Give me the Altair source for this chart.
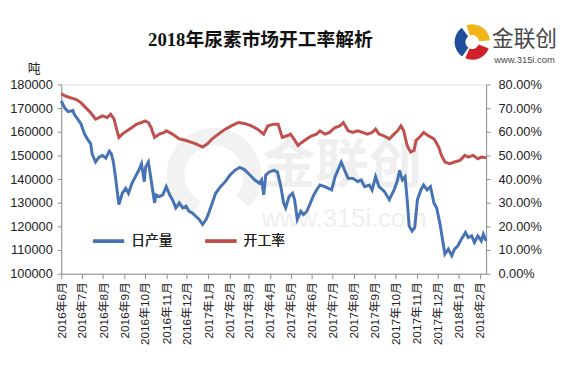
import altair as alt
import pandas as pd

# ---------------- data ----------------
prod_dates = [
    "2016-06-01", "2016-06-06", "2016-06-11", "2016-06-18", "2016-06-20", "2016-06-25", "2016-06-30",
    "2016-07-05", "2016-07-09", "2016-07-14", "2016-07-16", "2016-07-21", "2016-07-26", "2016-07-31",
    "2016-08-05", "2016-08-10", "2016-08-13", "2016-08-16", "2016-08-19", "2016-08-24", "2016-08-29",
    "2016-09-03", "2016-09-07", "2016-09-12", "2016-09-17", "2016-09-22", "2016-09-26", "2016-09-30",
    "2016-10-02", "2016-10-06", "2016-10-10", "2016-10-15", "2016-10-17", "2016-10-22", "2016-10-27",
    "2016-11-01", "2016-11-06", "2016-11-10", "2016-11-15", "2016-11-20", "2016-11-25", "2016-11-30",
    "2016-12-04", "2016-12-09", "2016-12-14", "2016-12-19", "2016-12-24", "2016-12-29",
    "2017-01-02", "2017-01-07", "2017-01-12", "2017-01-19", "2017-01-26",
    "2017-02-02", "2017-02-09", "2017-02-16", "2017-02-23",
    "2017-03-03", "2017-03-10", "2017-03-17", "2017-03-20", "2017-03-23", "2017-03-26", "2017-03-31",
    "2017-04-07", "2017-04-12", "2017-04-17", "2017-04-21", "2017-04-24", "2017-04-29",
    "2017-05-04", "2017-05-07", "2017-05-11", "2017-05-16", "2017-05-20", "2017-05-25", "2017-05-30",
    "2017-06-04", "2017-06-08", "2017-06-13", "2017-06-20", "2017-06-25", "2017-06-30",
    "2017-07-05", "2017-07-09", "2017-07-14", "2017-07-19", "2017-07-24", "2017-07-31",
    "2017-08-07", "2017-08-12", "2017-08-17", "2017-08-24", "2017-08-28",
    "2017-09-02", "2017-09-07", "2017-09-15", "2017-09-22", "2017-09-29",
    "2017-10-04", "2017-10-07", "2017-10-11", "2017-10-15", "2017-10-18", "2017-10-21", "2017-10-25", "2017-10-29",
    "2017-11-02", "2017-11-07", "2017-11-11", "2017-11-16", "2017-11-21", "2017-11-26", "2017-11-30",
    "2017-12-05", "2017-12-10", "2017-12-12", "2017-12-17", "2017-12-22", "2017-12-26", "2017-12-31",
    "2018-01-05", "2018-01-11", "2018-01-15", "2018-01-20", "2018-01-24", "2018-01-29",
    "2018-02-03", "2018-02-06", "2018-02-10",
]
prod_values = [
    173000, 170100, 168500, 169000, 167400, 165300, 163200,
    159000, 157000, 154900, 150700, 147200, 149300, 150000,
    148800, 151800, 150700, 147200, 141000, 129200, 134000,
    136100, 134000, 138200, 141000, 143700, 146500, 138900,
    145100, 147200, 139600, 129900, 133300, 132600, 133300,
    136800, 133300, 131300, 127800, 129900, 127800, 128500,
    126400, 125700, 124300, 122900, 120800, 122900,
    125700, 129900, 134000, 136800, 138900,
    141700, 143700, 144900, 144000,
    141700, 139600, 138200, 139600, 133300, 141700, 143000,
    143700, 143000, 136800, 129900, 127800, 132600,
    134000, 131300, 122900, 126400, 125000, 126400, 129900,
    133300, 135400, 137500, 136800, 136100, 135400,
    141000, 143700, 147200, 143700, 140300, 140300,
    138900, 139600, 136800, 137500, 135400,
    141000, 136800, 134700, 131300, 135400,
    139600, 143700, 139600, 141000, 131300, 120100, 118000, 119500,
    131300, 135400, 137500, 135400, 136800, 129900, 127800,
    120800, 111800, 108300, 110400, 107600, 110400, 111800,
    114600, 117400, 115300, 116000, 113200, 116000,
    113900, 116700, 113900,
]

rate_dates = [
    "2016-06-01", "2016-06-08", "2016-06-15", "2016-06-23", "2016-06-30",
    "2016-07-07", "2016-07-14", "2016-07-21", "2016-07-26", "2016-07-31",
    "2016-08-07", "2016-08-12", "2016-08-17", "2016-08-20", "2016-08-24", "2016-08-29",
    "2016-09-05", "2016-09-12", "2016-09-19", "2016-09-26",
    "2016-10-01", "2016-10-06", "2016-10-10", "2016-10-15", "2016-10-22", "2016-10-29",
    "2016-11-01", "2016-11-10", "2016-11-20", "2016-11-30",
    "2016-12-07", "2016-12-14", "2016-12-24", "2016-12-31",
    "2017-01-07", "2017-01-16", "2017-01-26",
    "2017-02-04", "2017-02-14", "2017-02-23",
    "2017-03-05", "2017-03-14", "2017-03-23", "2017-03-29",
    "2017-04-07", "2017-04-13", "2017-04-19", "2017-04-26",
    "2017-05-01", "2017-05-06", "2017-05-12", "2017-05-18", "2017-05-25",
    "2017-06-01", "2017-06-08", "2017-06-13", "2017-06-20", "2017-06-27",
    "2017-07-05", "2017-07-12", "2017-07-17", "2017-07-24", "2017-07-31",
    "2017-08-07", "2017-08-14", "2017-08-21", "2017-08-28",
    "2017-09-02", "2017-09-07", "2017-09-14", "2017-09-22", "2017-09-29",
    "2017-10-04", "2017-10-09", "2017-10-13", "2017-10-18", "2017-10-23", "2017-10-28", "2017-10-31",
    "2017-11-07", "2017-11-11", "2017-11-18", "2017-11-26",
    "2017-12-03", "2017-12-07", "2017-12-12", "2017-12-19", "2017-12-26",
    "2018-01-03", "2018-01-10", "2018-01-15", "2018-01-22", "2018-01-29",
    "2018-02-03", "2018-02-10",
]
rate_values = [  # percent
    76.0, 75.0, 74.3, 73.6, 72.2,
    70.1, 68.0, 65.3, 66.0, 66.7,
    66.0, 67.4, 65.3, 61.8, 57.6, 59.0,
    60.4, 61.8, 63.2, 63.9,
    64.6, 63.9, 61.8, 57.6, 59.0, 59.7,
    60.4, 59.0, 57.0, 56.3,
    55.6, 54.9, 53.5, 54.9,
    57.0, 59.0, 61.1,
    62.5, 63.9, 63.5,
    62.5, 61.1, 59.0, 62.5,
    63.2, 63.2, 57.6, 58.3,
    59.0, 57.0, 54.2, 55.6, 57.0,
    58.3, 59.0, 60.4, 59.0, 59.7,
    61.8, 62.5, 63.9, 60.4, 59.7,
    60.4, 59.7, 59.0, 59.7,
    61.1, 59.0, 58.3, 57.0, 59.0,
    60.4, 62.5, 60.4, 54.2, 51.4, 52.1, 56.3,
    58.3, 59.7, 58.3, 57.0,
    53.5, 50.0, 47.2, 46.5, 47.2,
    47.9, 50.0, 49.3, 50.0, 48.6,
    49.3, 49.0,
]

series_names = ["日产量", "开工率"]
series_colors = ["#4573b5", "#c0504d"]
month_ticks = [
    "2016-06-01", "2016-07-01", "2016-08-01", "2016-09-01", "2016-10-01", "2016-11-01",
    "2016-12-01", "2017-01-01", "2017-02-01", "2017-03-01", "2017-04-01", "2017-05-01",
    "2017-06-01", "2017-07-01", "2017-08-01", "2017-09-01", "2017-10-01", "2017-11-01",
    "2017-12-01", "2018-01-01", "2018-02-01",
]
x_domain = ["2016-06-01", "2018-02-10"]
left_ticks = [100000, 110000, 120000, 130000, 140000, 150000, 160000, 170000, 180000]
right_ticks = [0.0, 0.1, 0.2, 0.3, 0.4, 0.5, 0.6, 0.7, 0.8]
title_text = ["2018年尿素市场开工率解析"]
unit_text = "吨"
logo_text = ["金联创"]
logo_url = ["www.315i.com"]

# ---------------- chart ----------------
FONT = "Liberation Sans, Noto Sans CJK SC, sans-serif"
AXIS_GRAY = "#8c8c8c"


def dt(s):
    t = pd.Timestamp(s)
    return alt.DateTime(year=t.year, month=t.month, date=t.day, utc=True)


df_p = pd.DataFrame({"date": prod_dates, "value": prod_values, "series": series_names[0]})
df_r = pd.DataFrame({"date": rate_dates, "value": [v / 100 for v in rate_values], "series": series_names[1]})

x_enc = alt.X(
    "date:T",
    scale=alt.Scale(type="utc", domain=[dt(d) for d in x_domain]),
    axis=alt.Axis(
        values=[dt(d) for d in month_ticks],
        labelExpr="utcFormat(datum.value, '%Y年%-m月')",
        labelAngle=270,
        labelFont=FONT,
        labelFontSize=12,
        labelColor="#222222",
        labelPadding=3,
        labelOverlap=False,
        domainColor=AXIS_GRAY,
        tickColor=AXIS_GRAY,
        tickSize=5,
        grid=False,
        title=None,
    ),
)

color_enc = alt.Color(
    "series:N",
    scale=alt.Scale(domain=series_names, range=series_colors),
    legend=alt.Legend(
        orient="none",
        legendX=30,
        legendY=141,
        direction="horizontal",
        title=None,
        symbolType="stroke",
        symbolSize=1000,
        symbolStrokeWidth=3.5,
        labelFont=FONT,
        labelFontSize=14,
        labelColor="#222222",
        labelOffset=5,
        columnPadding=26,
    ),
)

left = alt.Chart(df_p).mark_line(strokeWidth=3).encode(
    x=x_enc,
    y=alt.Y(
        "value:Q",
        scale=alt.Scale(domain=[left_ticks[0], left_ticks[-1]], nice=False, zero=False),
        axis=alt.Axis(
            orient="left",
            values=left_ticks,
            format="d",
            labelFont=FONT,
            labelFontSize=13,
            labelColor="#222222",
            labelPadding=5,
            domainColor=AXIS_GRAY,
            tickColor=AXIS_GRAY,
            tickSize=4,
            grid=False,
            title=unit_text,
            titleAngle=0,
            titleX=-28,
            titleY=-16,
            titleAlign="center",
            titleBaseline="middle",
            titleFont=FONT,
            titleFontSize=13,
            titleFontWeight="normal",
            titleColor="#222222",
        ),
    ),
    color=color_enc,
)

right = alt.Chart(df_r).mark_line(strokeWidth=3).encode(
    x=x_enc,
    y=alt.Y(
        "value:Q",
        scale=alt.Scale(domain=[right_ticks[0], right_ticks[-1]], nice=False, zero=False),
        axis=alt.Axis(
            orient="right",
            values=right_ticks,
            format=".2%",
            labelFont=FONT,
            labelFontSize=13,
            labelColor="#222222",
            labelPadding=8,
            domainColor=AXIS_GRAY,
            tickColor=AXIS_GRAY,
            tickSize=4,
            grid=False,
            title=None,
        ),
    ),
    color=color_enc,
)

# faint watermark
wm_text = alt.Chart(pd.DataFrame({"t": logo_text})).mark_text(
    font="Noto Sans CJK SC", fontSize=54, fontWeight="bold", color="#efefef"
).encode(x=alt.value(285), y=alt.value(84), text="t:N")
wm_url = alt.Chart(pd.DataFrame({"t": logo_url})).mark_text(
    font=FONT, fontSize=26, color="#efefef"
).encode(x=alt.value(287), y=alt.value(137), text="t:N")
wm_ring = alt.Chart(pd.DataFrame({"t": logo_text})).mark_arc(
    color="#f2f2f2", radius=48, radius2=30, theta=3.6, theta2=8.6
).encode(x=alt.value(155), y=alt.value(92))

# title (as text so the logo does not push it)
title_mark = alt.Chart(pd.DataFrame({"t": title_text})).mark_text(
    font="Liberation Serif, Noto Sans CJK SC", fontSize=19, fontWeight="bold", color="#111111"
).encode(x=alt.value(202), y=alt.value(-45), text="t:N")

# logo top right
logo_arcs_df = pd.DataFrame({
    "part": ["a", "b", "c"],
    "t1": [3.75, 5.95, 1.95],
    "t2": [5.65, 7.75, 3.55],
    "col": ["#1f4e9c", "#f2b418", "#d0202a"],
})
logo_arcs = alt.Chart(logo_arcs_df).mark_arc(radius=18, radius2=7).encode(
    x=alt.value(417), y=alt.value(-43),
    theta=alt.Theta("t1:Q", scale=None), theta2="t2:Q",
    color=alt.Color("col:N", scale=None),
)
logo_name = alt.Chart(pd.DataFrame({"t": logo_text})).mark_text(
    font="Noto Sans CJK SC", fontSize=22, color="#4a4a4a"
).encode(x=alt.value(470), y=alt.value(-46), text="t:N")
logo_sub = alt.Chart(pd.DataFrame({"t": logo_url})).mark_text(
    font=FONT, fontSize=9.5, color="#4a4a4a"
).encode(x=alt.value(470), y=alt.value(-25), text="t:N")

chart = (
    alt.layer(wm_ring, wm_text, wm_url, left, right, title_mark, logo_arcs, logo_name, logo_sub)
    .resolve_scale(y="independent", color="independent")
    .properties(
        width=431,
        height=192,
        autosize="none",
        padding={"left": 54, "top": 75, "right": 76, "bottom": 84},
    )
    .configure_view(stroke=None)
    .configure(background="white")
)

chart.save("out.html", embed_options={"renderer": "svg", "actions": False})
